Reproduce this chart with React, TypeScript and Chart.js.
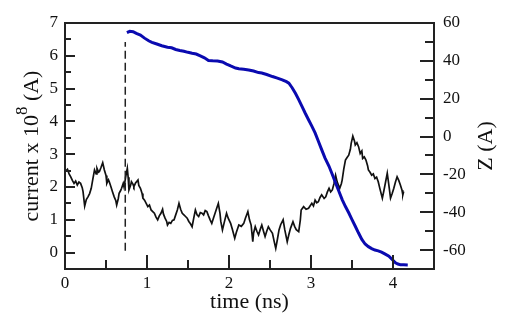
import React, { useEffect, useRef } from "react";
import { Chart, registerables } from "chart.js";

Chart.register(...registerables);

// ---- data ----
const blueTime = [
  0.755, 0.79, 0.83, 0.87, 0.92, 0.97, 1.02, 1.06, 1.12, 1.18, 1.25, 1.3, 1.35, 1.4, 1.45, 1.5,
  1.55, 1.6, 1.65, 1.7, 1.75, 1.8, 1.86, 1.92, 1.97, 2.02, 2.08, 2.12, 2.18, 2.24, 2.3, 2.36,
  2.4, 2.46, 2.53, 2.59, 2.65, 2.7, 2.73, 2.77, 2.81, 2.85, 2.89, 2.93, 2.97, 3.01, 3.05, 3.09,
  3.13, 3.17, 3.22, 3.26, 3.3, 3.34, 3.38, 3.42, 3.46, 3.5, 3.54, 3.58, 3.62, 3.66, 3.7, 3.74,
  3.78, 3.82, 3.86, 3.9, 3.95, 3.99, 4.03, 4.06, 4.09, 4.13, 4.18,
];
const blueZ = [
  54.9, 55.6, 55.4, 54.5, 53.6, 52.0, 50.6, 49.8, 48.9, 48.0, 47.2, 46.9, 46.0, 45.5, 45.1, 44.5,
  44.0, 43.6, 42.6, 41.6, 40.2, 40.0, 39.9, 39.4, 38.3, 37.3, 36.2, 35.8, 35.6, 35.2, 34.6, 33.8,
  33.6, 32.8, 31.7, 30.9, 30.0, 29.0, 28.2, 25.8, 22.9, 19.5, 15.9, 12.3, 8.9, 5.5, 1.9, -2.5,
  -6.9, -11.3, -15.7, -20.1, -24.5, -28.9, -33.3, -37.0, -40.3, -43.9, -47.4, -51.0, -54.4, -56.8, -58.2, -59.2,
  -60.0, -60.4, -61.1, -62.0, -63.2, -65.0, -66.7, -67.4, -67.7, -67.8, -67.9,
];

const blackTime = [
  0.0, 0.03, 0.05, 0.07, 0.09, 0.11, 0.13, 0.15, 0.17, 0.19, 0.21, 0.22, 0.24, 0.26, 0.28, 0.3,
  0.32, 0.34, 0.36, 0.38, 0.39, 0.41, 0.42, 0.44, 0.46, 0.48, 0.5, 0.51, 0.53, 0.54, 0.56, 0.58,
  0.6, 0.62, 0.63, 0.65, 0.66, 0.68, 0.69, 0.71, 0.72, 0.74, 0.76, 0.77, 0.78, 0.8, 0.81, 0.83,
  0.84, 0.86, 0.89, 0.9, 0.92, 0.94, 0.95, 0.97, 0.99, 1.01, 1.03, 1.05, 1.07, 1.09, 1.11, 1.13,
  1.15, 1.17, 1.19, 1.2, 1.22, 1.24, 1.25, 1.27, 1.29, 1.31, 1.33, 1.35, 1.37, 1.39, 1.41, 1.43,
  1.45, 1.47, 1.49, 1.51, 1.53, 1.55, 1.57, 1.59, 1.61, 1.63, 1.65, 1.67, 1.69, 1.71, 1.73, 1.75,
  1.77, 1.79, 1.81, 1.83, 1.85, 1.87, 1.89, 1.9, 1.92, 1.94, 1.97, 1.99, 2.02, 2.04, 2.07, 2.09,
  2.12, 2.15, 2.18, 2.2, 2.23, 2.25, 2.27, 2.29, 2.3, 2.32, 2.34, 2.36, 2.38, 2.4, 2.42, 2.44,
  2.46, 2.48, 2.5, 2.53, 2.55, 2.57, 2.59, 2.61, 2.63, 2.66, 2.68, 2.71, 2.73, 2.75, 2.78, 2.8,
  2.82, 2.85, 2.87, 2.88, 2.91, 2.94, 2.97, 3.01, 3.03, 3.05, 3.07, 3.09, 3.11, 3.13, 3.16, 3.18,
  3.2, 3.22, 3.24, 3.26, 3.28, 3.3, 3.32, 3.35, 3.37, 3.38, 3.4, 3.42, 3.44, 3.46, 3.48, 3.49,
  3.51, 3.53, 3.54, 3.56, 3.58, 3.6, 3.62, 3.63, 3.65, 3.67, 3.69, 3.7, 3.72, 3.74, 3.76, 3.78,
  3.8, 3.82, 3.84, 3.87, 3.89, 3.91, 3.93, 3.95, 3.97, 3.99, 4.01, 4.03, 4.05, 4.07, 4.09, 4.11,
  4.12, 4.13,
];
const blackCurrent = [
  2.47, 2.54, 2.4, 2.31, 2.2, 2.11, 2.18, 2.06, 2.15, 2.11, 1.98, 1.86, 1.42, 1.62, 1.7, 1.8,
  1.96, 2.25, 2.52, 2.4, 2.57, 2.45, 2.47, 2.6, 2.74, 2.52, 2.35, 2.11, 2.22, 2.16, 2.01, 1.85,
  1.7, 1.58, 1.45, 1.65, 1.81, 1.9, 1.96, 2.11, 2.0, 2.31, 2.57, 2.3, 1.91, 2.05, 2.16, 2.08,
  2.01, 2.12, 2.21, 2.05, 1.96, 1.8, 1.66, 1.6, 1.5, 1.4, 1.45, 1.3, 1.25, 1.2, 1.08, 1.0,
  1.12, 1.2, 1.32, 1.18, 1.05, 0.95, 0.84, 0.92, 0.89, 0.98, 1.0, 1.15, 1.3, 1.5, 1.32, 1.2,
  1.15, 1.1, 1.05, 0.95, 0.88, 0.79, 1.05, 1.3, 1.15, 1.1, 1.22, 1.2, 1.15, 1.28, 1.25, 1.12,
  1.0, 0.89, 1.05, 1.2, 1.35, 1.5, 1.2, 0.95, 0.69, 0.9, 1.2, 1.05, 0.89, 0.72, 0.44, 0.62,
  0.84, 0.8, 0.89, 1.05, 1.25, 1.0, 0.84, 0.33, 0.6, 0.79, 0.65, 0.54, 0.7, 0.84, 0.66, 0.49,
  0.65, 0.79, 0.7, 0.59, 0.35, 0.13, 0.4, 0.69, 0.85, 1.0, 0.7, 0.33, 0.55, 0.74, 0.94, 0.8,
  0.7, 0.64, 1.0, 1.3, 1.4, 1.32, 1.35, 1.5, 1.42, 1.6, 1.52, 1.55, 1.68, 1.76, 1.65, 1.7,
  1.85, 1.96, 1.85, 1.91, 2.1, 2.36, 2.15, 1.96, 2.1, 2.21, 2.55, 2.82, 2.9, 2.97, 3.15, 3.33,
  3.55, 3.4, 3.28, 3.35, 3.23, 3.02, 3.1, 2.87, 2.92, 2.82, 2.65, 2.52, 2.45, 2.36, 2.4, 2.26,
  2.3, 2.16, 1.95, 1.66, 1.9, 2.16, 2.42, 2.05, 1.66, 1.8, 1.96, 2.15, 2.31, 2.2, 2.06, 1.9,
  1.76, 1.86,
];

const dashTime = [0.735, 0.735];
const dashCurrent = [0.06, 6.42];

const xTicks = [0, 1, 2, 3, 4];
const xMinorTicks = [0.5, 1.5, 2.5, 3.5];
const leftTicks = [0, 1, 2, 3, 4, 5, 6, 7];
const leftMinorTicks = [0.5, 1.5, 2.5, 3.5, 4.5, 5.5, 6.5];
const rightTicks = [-60, -40, -20, 0, 20, 40, 60];
const rightMinorTicks = [-50, -30, -10, 10, 30, 50];

const xTitle = "time (ns)";
const leftTitleMain = "current x 10";
const leftTitleSup = "8";
const leftTitleEnd = " (A)";
const rightTitle = "Z (A)";

const FONT = "'Liberation Serif', 'DejaVu Serif', serif";
const INK = "#111";

const decor = {
  id: "decor",
  afterDraw(chart: any) {
    const ctx = chart.ctx as CanvasRenderingContext2D;
    const a = chart.chartArea;
    const sx = chart.scales.x;
    const yl = chart.scales.y;
    const yr = chart.scales.y2;
    ctx.save();
    ctx.strokeStyle = "#222";
    ctx.lineWidth = 2;
    ctx.strokeRect(a.left, a.top, a.right - a.left, a.bottom - a.top);

    const line = (x1: number, y1: number, x2: number, y2: number) => {
      ctx.beginPath();
      ctx.moveTo(x1, y1);
      ctx.lineTo(x2, y2);
      ctx.stroke();
    };
    ctx.lineWidth = 2;
    xTicks.forEach((v) => {
      const p = Math.round(sx.getPixelForValue(v));
      line(p, a.bottom, p, a.bottom - 14);
    });
    xMinorTicks.forEach((v) => {
      const p = Math.round(sx.getPixelForValue(v));
      line(p, a.bottom, p, a.bottom - 9);
    });
    leftTicks.forEach((v) => {
      const p = Math.round(yl.getPixelForValue(v));
      line(a.left, p, a.left + 10, p);
    });
    leftMinorTicks.forEach((v) => {
      const p = Math.round(yl.getPixelForValue(v));
      line(a.left, p, a.left + 6, p);
    });
    rightTicks.forEach((v) => {
      const p = Math.round(yr.getPixelForValue(v));
      line(a.right, p, a.right - 14, p);
    });
    rightMinorTicks.forEach((v) => {
      const p = Math.round(yr.getPixelForValue(v));
      line(a.right, p, a.right - 9, p);
    });

    // titles
    ctx.fillStyle = INK;
    ctx.textBaseline = "middle";
    ctx.textAlign = "center";
    ctx.font = `22px ${FONT}`;
    ctx.fillText(xTitle, (a.left + a.right) / 2, 302);

    // left title with superscript
    const cy = (a.top + a.bottom) / 2;
    ctx.save();
    ctx.translate(32, cy);
    ctx.rotate(-Math.PI / 2);
    ctx.textAlign = "left";
    const mainFont = `22px ${FONT}`;
    const supFont = `17px ${FONT}`;
    ctx.font = mainFont;
    const w1 = ctx.measureText(leftTitleMain).width;
    const w3 = ctx.measureText(leftTitleEnd).width;
    ctx.font = supFont;
    const w2 = ctx.measureText(leftTitleSup).width;
    let x0 = -(w1 + w2 + w3) / 2;
    ctx.font = mainFont;
    ctx.fillText(leftTitleMain, x0, 0);
    x0 += w1;
    ctx.font = supFont;
    ctx.fillText(leftTitleSup, x0, -9);
    x0 += w2;
    ctx.font = mainFont;
    ctx.fillText(leftTitleEnd, x0, 0);
    ctx.restore();

    ctx.save();
    ctx.translate(486, cy);
    ctx.rotate(-Math.PI / 2);
    ctx.textAlign = "center";
    ctx.font = `22px ${FONT}`;
    ctx.fillText(rightTitle, 0, 0);
    ctx.restore();

    ctx.restore();
  },
};

export default function App() {
  const ref = useRef<HTMLCanvasElement | null>(null);

  useEffect(() => {
    document.body.style.margin = "0";
    const canvas = ref.current;
    if (!canvas) return;
    const tickFont = { family: FONT, size: 17 };
    const chart = new Chart(canvas, {
      type: "line",
      data: {
        datasets: [
          {
            label: "marker",
            data: dashTime.map((t, i) => ({ x: t, y: dashCurrent[i] })),
            yAxisID: "y",
            borderColor: "#222",
            borderWidth: 1.5,
            borderDash: [8, 4],
            pointRadius: 0,
            fill: false,
          },
          {
            label: "Z",
            data: blueTime.map((t, i) => ({ x: t, y: blueZ[i] })),
            yAxisID: "y2",
            borderColor: "#0a0ab0",
            borderWidth: 3,
            pointRadius: 0,
            fill: false,
            tension: 0,
          },
          {
            label: "current",
            data: blackTime.map((t, i) => ({ x: t, y: blackCurrent[i] })),
            yAxisID: "y",
            borderColor: "#111",
            borderWidth: 1.7,
            pointRadius: 0,
            fill: false,
            tension: 0,
          },
        ],
      },
      options: {
        animation: false,
        responsive: false,
        maintainAspectRatio: false,
        layout: { padding: { top: 23, left: 0, right: 0, bottom: 0 } },
        plugins: { legend: { display: false }, tooltip: { enabled: false } },
        scales: {
          x: {
            type: "linear",
            min: 0,
            max: 4.5,
            grid: { display: false, drawTicks: false },
            border: { display: false },
            afterBuildTicks: (s: any) => {
              s.ticks = xTicks.map((v) => ({ value: v }));
            },
            afterFit: (s: any) => {
              s.height = 51;
            },
            ticks: { font: tickFont, color: INK, padding: 4, maxRotation: 0 },
          },
          y: {
            type: "linear",
            position: "left",
            min: -0.5,
            max: 7,
            grid: { display: false, drawTicks: false },
            border: { display: false },
            afterBuildTicks: (s: any) => {
              s.ticks = leftTicks.map((v) => ({ value: v }));
            },
            afterFit: (s: any) => {
              s.width = 65;
            },
            ticks: { font: tickFont, color: INK, padding: 7 },
          },
          y2: {
            type: "linear",
            position: "right",
            min: -70,
            max: 60,
            grid: { display: false, drawTicks: false },
            border: { display: false },
            afterBuildTicks: (s: any) => {
              s.ticks = rightTicks.map((v) => ({ value: v }));
            },
            afterFit: (s: any) => {
              s.width = 72;
            },
            ticks: { font: tickFont, color: INK, padding: 9 },
          },
        },
      },
      plugins: [decor],
    } as any);
    return () => chart.destroy();
  }, []);

  return (
    <div style={{ width: 506, height: 320 }}>
      <canvas ref={ref} width={506} height={320} style={{ display: "block" }} />
    </div>
  );
}
